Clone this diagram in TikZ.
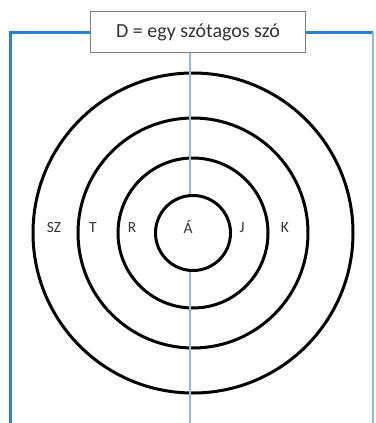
\documentclass[tikz,border=0pt]{standalone}
\usepackage{fontspec}
\setmainfont{Carlito}
\usetikzlibrary{positioning}
\definecolor{keret}{HTML}{2A80CC}
\definecolor{tengely}{HTML}{8DBBE3}
\definecolor{szurke}{HTML}{7F7F7F}
\definecolor{betu}{HTML}{333333}
\tikzset{
  kor/.style={circle, draw=black, line width=3pt, inner sep=0pt},
  cimke/.style={font=\fontsize{15.5}{18}\selectfont, text=betu},
  cimdoboz/.style={rectangle, draw=szurke, fill=white, line width=1.3pt,
    minimum width=215pt, minimum height=41pt, font=\fontsize{20}{24}\selectfont, text=betu},
  keretvonal/.style={line width=3pt, color=keret},
  tengelyvonal/.style={line width=1.5pt, color=tengely},
}

\begin{document}
\begin{tikzpicture}[x=1pt, y=-1pt]
  \useasboundingbox (0,0) rectangle (375,423);
  % korok
  \node[kor, minimum size=320pt] (k4) at (193,233) {};
  \node[kor, minimum size=230pt] (k3) at (193,233) {};
  \node[kor, minimum size=150pt] (k2) at (193,233) {};

  % keret
  \node[cimdoboz] (cim) at (198,32) {D = egy szótagos szó};
  \coordinate (balalj) at (10,423);
  \coordinate (jobbalj) at (373,423);
  \coordinate (tengelyalj) at (190,423);
  \draw[keretvonal] (balalj) |- (cim.west);
  \draw[keretvonal] (cim.east) -- (cim.east -| jobbalj);
  \draw[tengelyvonal] (cim.east -| jobbalj) -- (jobbalj);
  \draw[tengelyvonal] (tengelyalj) -- (tengelyalj |- cim.south);

  \node[kor, fill=white, minimum size=75pt] (k1) at (193,233) {};

  % betuk
  \node[cimke] (sz) at (54,228) {SZ};
  \node[cimke] (t) at (93,228) {T};
  \node[cimke] (r) at (132,228) {R};
  \node[cimke] (a) at (188,227) {Á};
  \node[cimke] (j) at (242,228) {J};
  \node[cimke] (k) at (285,228) {K};
\end{tikzpicture}
\end{document}
